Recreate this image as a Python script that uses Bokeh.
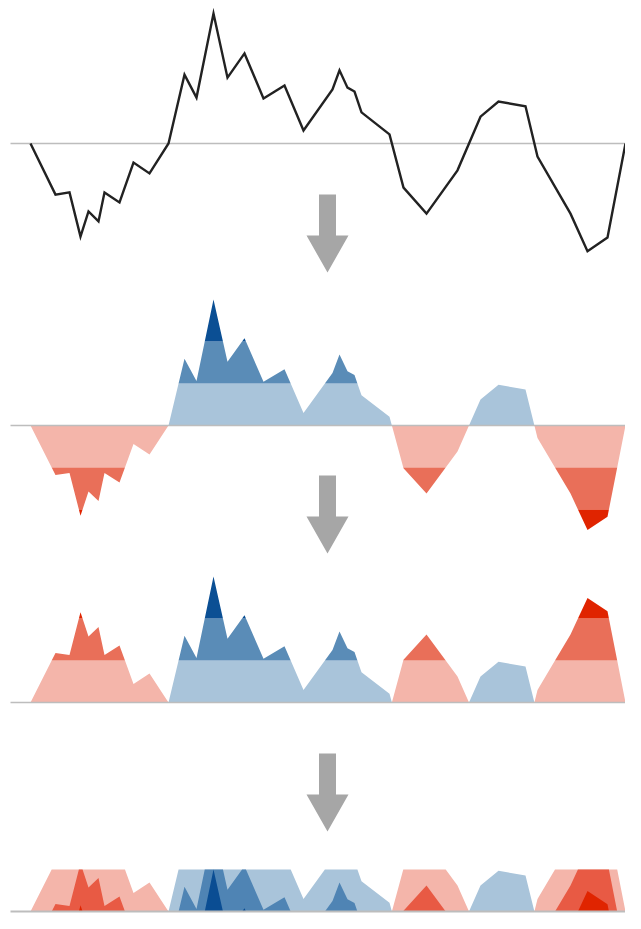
from bokeh.plotting import figure
from bokeh.models import Range1d
from bokeh.embed import file_html
from bokeh.resources import INLINE

# ---- data: time positions and values (in band units) ----
t = [0, 25, 39, 50, 58, 68, 74, 89, 103, 119, 138, 154, 166, 183, 197, 214, 233, 254, 273,
     302, 309, 317, 324, 331, 359, 373, 396, 427, 450, 468, 495, 507, 540, 557, 577, 595]
values = [0, -1.18, -1.13, -2.15, -1.57, -1.80, -1.13, -1.36, -0.44, -0.69, 0, 1.59, 1.06,
          3.0, 1.52, 2.08, 1.04, 1.34, 0.30, 1.25, 1.69, 1.29, 1.20, 0.72, 0.21, -1.02,
          -1.62, -0.62, 0.62, 0.97, 0.86, -0.30, -1.62, -2.49, -2.17, 0]
n_bands = 3

blues = ["#a9c4da", "#5a8cb7", "#0b4f94"]
reds = ["#f4b5aa", "#e96f59", "#e02400"]
panel4_blues = ["#a9c4da", "#4f84b4", "#0a4d93"]
panel4_reds = ["#f4b5aa", "#e85a44", "#e02400"]

# ---- layout (screen-like coordinates, y grows downward) ----
W, H = 625, 913
X0 = 30          # t=0 sits 30 px in from the figure's left edge
line_base, line_scale = 143, 43.3
div_base, div_scale = 425, 42
mir_base, mir_scale = 702, 42
hor_base, hor_scale = 911, 42
arrow_tops = [194, 475, 753]

p = figure(width=W, height=H, output_backend="svg", toolbar_location=None,
           x_range=Range1d(-X0, W - X0), y_range=Range1d(H, 0),
           min_border=0, outline_line_color=None)
p.axis.visible = False
p.grid.visible = False
p.background_fill_color = "white"
p.border_fill_color = "white"

# insert crossing points at integer band levels so clipped areas are exact
levels = list(range(-n_bands, n_bands + 1))
dt, dv = [t[0]], [values[0]]
for i in range(len(t) - 1):
    ta, tb, va, vb = t[i], t[i + 1], values[i], values[i + 1]
    cross = []
    for L in levels:
        if min(va, vb) < L < max(va, vb):
            cross.append((ta + (L - va) / (vb - va) * (tb - ta), float(L)))
    cross.sort(key=lambda c: c[0])
    for c in cross:
        dt.append(c[0]); dv.append(c[1])
    dt.append(tb); dv.append(vb)

def clip(v, lo, hi):
    return max(lo, min(hi, v))

x_lo, x_hi = -20, W - X0 + 10
base_col = "#bdbdbd"

# ---- panel 1: line chart ----
p.segment(x0=[x_lo], y0=[line_base], x1=[x_hi], y1=[line_base], line_color=base_col, line_width=1.6)
p.line(t, [line_base - v * line_scale for v in values],
       line_color="#222222", line_width=2.4, line_join="miter")

# ---- panel 2: diverging bands ----
for k in range(n_bands):
    p.varea(x=dt, y1=[div_base - k * div_scale] * len(dt),
            y2=[div_base - clip(v, k, k + 1) * div_scale for v in dv], fill_color=blues[k])
    p.varea(x=dt, y1=[div_base + k * div_scale] * len(dt),
            y2=[div_base + clip(-v, k, k + 1) * div_scale for v in dv], fill_color=reds[k])
p.segment(x0=[x_lo], y0=[div_base], x1=[x_hi], y1=[div_base], line_color=base_col, line_width=1.6)

# ---- panel 3: mirrored bands ----
for k in range(n_bands):
    p.varea(x=dt, y1=[mir_base - k * mir_scale] * len(dt),
            y2=[mir_base - clip(v, k, k + 1) * mir_scale for v in dv], fill_color=blues[k])
    p.varea(x=dt, y1=[mir_base - k * mir_scale] * len(dt),
            y2=[mir_base - clip(-v, k, k + 1) * mir_scale for v in dv], fill_color=reds[k])
p.segment(x0=[x_lo], y0=[mir_base], x1=[x_hi], y1=[mir_base], line_color=base_col, line_width=1.6)

# ---- panel 4: collapsed horizon ----
for k in range(n_bands):
    p.varea(x=dt, y1=[hor_base] * len(dt),
            y2=[hor_base - clip(v - k, 0, 1) * hor_scale for v in dv], fill_color=panel4_blues[k])
    p.varea(x=dt, y1=[hor_base] * len(dt),
            y2=[hor_base - clip(-v - k, 0, 1) * hor_scale for v in dv], fill_color=panel4_reds[k])
p.segment(x0=[x_lo], y0=[hor_base], x1=[x_hi], y1=[hor_base], line_color=base_col, line_width=2)

# ---- arrows ----
ax = 297   # arrow centre in t units
for top in arrow_tops:
    xs = [ax - 8.5, ax + 8.5, ax + 8.5, ax + 21, ax, ax - 21, ax - 8.5]
    ys = [top, top, top + 41, top + 41, top + 78, top + 41, top + 41]
    p.patch(xs, ys, fill_color="#a6a6a6", line_color=None)

open("out.html", "w").write(file_html(p, INLINE))
